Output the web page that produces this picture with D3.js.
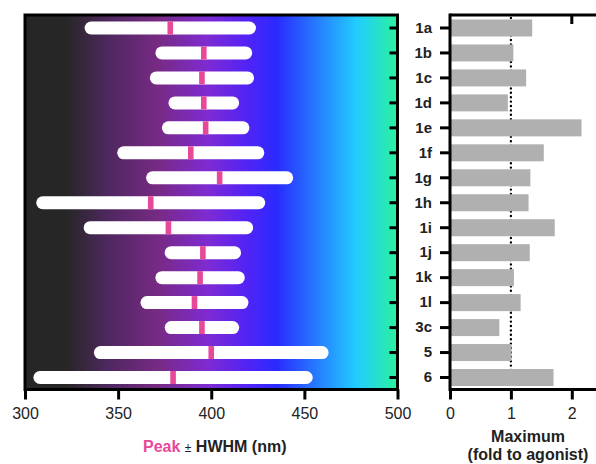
<!DOCTYPE html>
<html>
<head>
<meta charset="utf-8">
<script src="https://cdn.jsdelivr.net/npm/d3@7/dist/d3.min.js"></script>
<style>
  html, body { margin: 0; padding: 0; background: #fff; }
  svg { display: block; font-family: "Liberation Sans", Arial, sans-serif; }
</style>
</head>
<body>
<svg id="chart" width="596" height="464"></svg>
<script>
// ---------- data ----------
const compounds = ["1a","1b","1c","1d","1e","1f","1g","1h","1i","1j","1k","1l","3c","5","6"];
const peakNm    = [378, 396, 395, 396, 397, 389, 404.5, 367.5, 377, 395.5, 394, 391, 395, 400, 379.5];
const hwhmNm    = [46, 26, 28, 19, 23.5, 39.5, 39.5, 61.5, 45.5, 20.5, 24, 29, 20, 63, 75];
const maximum   = [1.35, 1.04, 1.25, 0.95, 2.16, 1.54, 1.32, 1.29, 1.72, 1.31, 1.05, 1.16, 0.81, 1.01, 1.70];
const nmTicks   = [300, 350, 400, 450, 500];
const maxTicks  = [0, 1, 2];
const refLine   = 1;
// spectrum gradient stops (wavelength, colour)
const gradNm    = [300, 322, 345, 372, 398, 418, 435, 478, 500];
const gradColor = ["#262626", "#262626", "#4f2860", "#782a85", "#7e2bd2", "#5523f4", "#2a2aff", "#22ccff", "#2af29c"];

// ---------- layout ----------
const svg = d3.select("#chart");
const yTop = 15, yBot = 389.5;
const x = d3.scaleLinear().domain([300, 500]).range([25, 397.5]);
const x2 = d3.scaleLinear().domain([0, 2.4]).range([450, 450 + 2.4 * 60.9]);
const y = d3.scaleBand().domain(compounds).range([yTop, yBot]).padding(0);
const pink = "#e8489a";

// gradient
const defs = svg.append("defs");
const lg = defs.append("linearGradient").attr("id", "spec")
  .attr("gradientUnits", "userSpaceOnUse")
  .attr("x1", x(300)).attr("x2", x(500)).attr("y1", 0).attr("y2", 0);
lg.selectAll("stop").data(gradNm).join("stop")
  .attr("offset", (d) => (d - 300) / 200)
  .attr("stop-color", (d, i) => gradColor[i]);

// ---------- left panel ----------
svg.append("rect")
  .attr("x", x(300)).attr("y", yTop)
  .attr("width", x(500) - x(300)).attr("height", yBot - yTop)
  .attr("fill", "url(#spec)");

const capH = 13;
const rows = svg.append("g");
compounds.forEach((c, i) => {
  const cy = y(c) + y.bandwidth() / 2 + 0.5;
  const x0 = x(peakNm[i] - hwhmNm[i]), x1 = x(peakNm[i] + hwhmNm[i]);
  rows.append("rect")
    .attr("x", x0).attr("y", cy - capH / 2)
    .attr("width", x1 - x0).attr("height", capH)
    .attr("rx", capH / 2).attr("fill", "#fff");
  rows.append("rect")
    .attr("x", x(peakNm[i]) - 2.8).attr("y", cy - capH / 2)
    .attr("width", 5.6).attr("height", capH)
    .attr("fill", pink);
});

// frame
svg.append("rect")
  .attr("x", x(300)).attr("y", yTop)
  .attr("width", x(500) - x(300)).attr("height", yBot - yTop)
  .attr("fill", "none").attr("stroke", "#000").attr("stroke-width", 3);

// right-edge inward ticks
svg.append("g").selectAll("line").data(compounds).join("line")
  .attr("x1", x(500) - 8).attr("x2", x(500))
  .attr("y1", (d) => y(d) + y.bandwidth() / 2 + 0.5)
  .attr("y2", (d) => y(d) + y.bandwidth() / 2 + 0.5)
  .attr("stroke", "#000").attr("stroke-width", 3);

// bottom axis
const axL = svg.append("g").attr("transform", `translate(0,${yBot})`)
  .call(d3.axisBottom(x).tickValues(nmTicks).tickSize(10).tickPadding(8).tickFormat(d3.format("d")));
axL.select(".domain").remove();
axL.selectAll(".tick line").attr("stroke", "#000").attr("stroke-width", 3);
axL.selectAll(".tick text").attr("font-size", 16).attr("fill", "#222")
  .attr("font-family", "Liberation Sans, Arial, sans-serif");

// title
const t1 = svg.append("text").attr("x", 143).attr("y", 451.5)
  .attr("text-anchor", "start").attr("font-size", 16).attr("font-weight", "bold").attr("fill", "#222");
t1.append("tspan").attr("fill", pink).text("Peak");
t1.append("tspan").text(" ");
t1.append("tspan").attr("font-size", 12).attr("font-weight", "normal").text("±");
t1.append("tspan").text(" HWHM (nm)");

// ---------- right panel ----------
// dotted reference line at 1 (behind bars)
svg.append("line")
  .attr("x1", x2(refLine)).attr("x2", x2(refLine))
  .attr("y1", yTop + 3).attr("y2", yBot - 2)
  .attr("stroke", "#000").attr("stroke-width", 2.4)
  .attr("stroke-linecap", "round").attr("stroke-dasharray", "0,4.4");

const barH = 17;
svg.append("g").selectAll("rect").data(compounds).join("rect")
  .attr("x", x2(0))
  .attr("y", (d) => y(d) + y.bandwidth() / 2 + 0.5 - barH / 2)
  .attr("width", (d, i) => x2(maximum[i]) - x2(0))
  .attr("height", barH)
  .attr("fill", "#b0b0b0");

// frame lines: left, top, bottom
const frame = svg.append("g").attr("stroke", "#000").attr("stroke-width", 3);
frame.append("line").attr("x1", x2(0)).attr("x2", x2(0)).attr("y1", yTop - 1.5).attr("y2", yBot + 1.5);
frame.append("line").attr("x1", x2(0)).attr("x2", 600).attr("y1", yTop).attr("y2", yTop);
frame.append("line").attr("x1", x2(0)).attr("x2", 600).attr("y1", yBot).attr("y2", yBot);
// top inward tick at 2
frame.append("line").attr("x1", x2(2)).attr("x2", x2(2)).attr("y1", yTop).attr("y2", yTop + 9);

// left axis (category labels)
const axR = svg.append("g").attr("transform", `translate(${x2(0)},0.5)`)
  .call(d3.axisLeft(y).tickSize(10).tickPadding(8));
axR.select(".domain").remove();
axR.selectAll(".tick line").attr("stroke", "#000").attr("stroke-width", 3);
axR.selectAll(".tick text").attr("font-size", 15).attr("font-weight", "bold").attr("fill", "#222")
  .attr("font-family", "Liberation Sans, Arial, sans-serif");

// bottom axis
const axB = svg.append("g").attr("transform", `translate(0,${yBot})`)
  .call(d3.axisBottom(x2).tickValues(maxTicks).tickSize(10).tickPadding(8).tickFormat(d3.format("d")));
axB.select(".domain").remove();
axB.selectAll(".tick line").attr("stroke", "#000").attr("stroke-width", 3);
axB.selectAll(".tick text").attr("font-size", 16).attr("fill", "#222")
  .attr("font-family", "Liberation Sans, Arial, sans-serif");

// title
const t2 = svg.append("text").attr("x", 528).attr("text-anchor", "middle")
  .attr("font-size", 16).attr("font-weight", "bold").attr("fill", "#222");
t2.append("tspan").attr("x", 528).attr("y", 441.5).text("Maximum");
t2.append("tspan").attr("x", 528).attr("y", 459.5).text("(fold to agonist)");
</script>
</body>
</html>
